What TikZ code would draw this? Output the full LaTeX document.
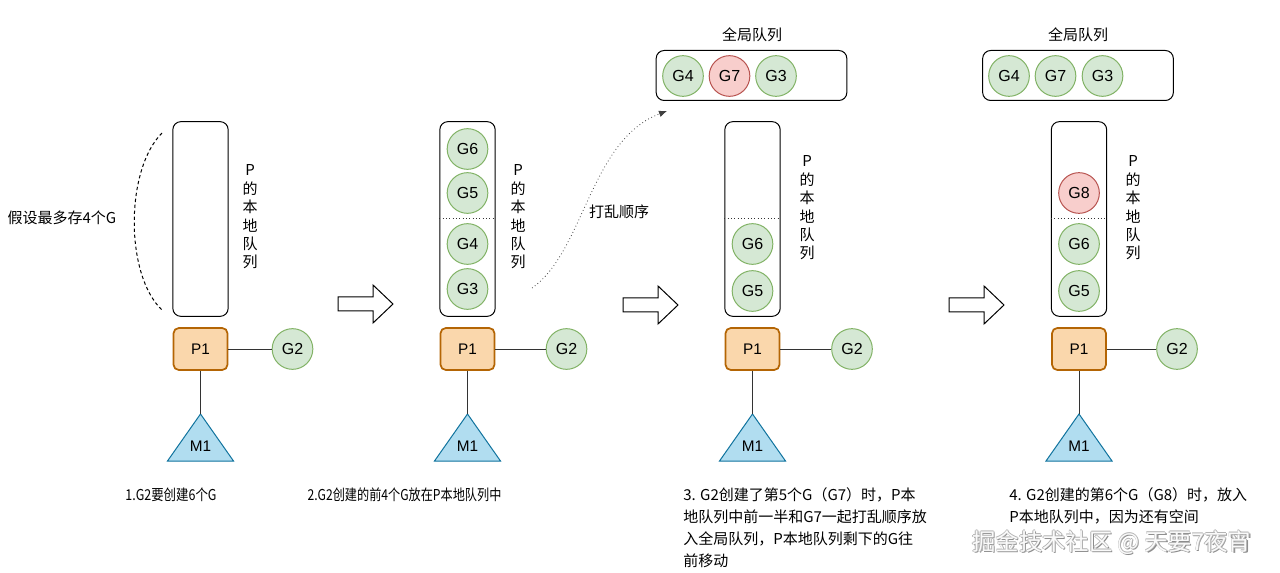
\documentclass[tikz,border=0pt]{standalone}
\usepackage{fontspec}
\usetikzlibrary{arrows.meta}
\setmainfont{Liberation Sans}
\newfontfamily\cjk{Noto Sans CJK SC}
\definecolor{gfill}{HTML}{D5E8D4}
\definecolor{gline}{HTML}{82B366}
\definecolor{rfill}{HTML}{F8CECC}
\definecolor{rline}{HTML}{B85450}
\definecolor{ofill}{HTML}{FAD7AC}
\definecolor{oline}{HTML}{B46504}
\definecolor{bfill}{HTML}{B1DDF0}
\definecolor{bline}{HTML}{10739E}
\definecolor{wmshadow}{HTML}{8C8C8C}
\definecolor{wmedge}{HTML}{B4B4B4}
\definecolor{wmtext}{HTML}{FAFAFA}
\tikzset{
  qbox/.style={draw=black, line width=0.75pt, rounded corners=6pt, minimum width=41.5pt, minimum height=146pt, inner sep=0pt},
  globbox/.style={draw=black, line width=0.75pt, rounded corners=6pt, minimum width=143pt, minimum height=37.5pt, inner sep=0pt},
  pbox/.style={draw=oline, fill=ofill, line width=1.3pt, rounded corners=4pt, minimum width=40.5pt, minimum height=31.5pt, inner sep=0pt, font=\fontsize{11.5}{13}\selectfont},
  gnode/.style={circle, draw=gline, fill=gfill, line width=0.75pt, minimum size=30.5pt, inner sep=0pt, font=\fontsize{12}{14}\selectfont},
  rnode/.style={gnode, draw=rline, fill=rfill},
  mtri/.style={draw=bline, fill=bfill, line width=0.75pt, line join=miter},
  lbl/.style={inner sep=0pt, font=\fontsize{11.5}{13}\selectfont},
  cjklbl/.style={inner sep=0pt, font=\cjk\fontsize{11.25}{16.5}\selectfont},
  vlbl/.style={inner sep=0pt, align=center, font=\cjk\fontsize{11.25}{13.8}\selectfont},
  conn/.style={draw=black!80, line width=0.75pt},
  divider/.style={draw=black!80, line width=0.5pt, dotted},
  barrow/.style={draw=black, fill=white, line width=0.75pt, line join=miter},
  wmfont/.style={inner sep=0pt, font=\cjk\fontsize{17.5}{20}\selectfont},
}
\newcommand\mypanel[4]{%
  \node[qbox] (#1q) at (#2,219) {};
  \node[pbox] (#1p) at (#2,349) {P1};
  \node[gnode] (#1g2) at (#3,349) {G2};
  \coordinate (#1ma) at (#2,414);
  \draw[mtri] (#1ma) -- ++(-33,47) -- ++(66,0) -- cycle;
  \node[lbl] (#1m) at (#2,446) {M1};
  \draw[conn] (#1p) -- (#1g2);
  \draw[conn] (#1p) -- (#1ma);
  \node[vlbl] (#1lbl) at (#4) {P\\的\\本\\地\\队\\列};
}
\newcommand\mydivider[1]{%
  \draw[divider] (#1q.west |- 0,218.5) -- (#1q.east |- 0,218.5);
}
\newcommand\myblockarrow[2]{%
  \draw[barrow] (#1,#2-7) -- (#1+35,#2-7) -- (#1+35,#2-19) -- (#1+55,#2) -- (#1+35,#2+19) -- (#1+35,#2+7) -- (#1,#2+7) -- cycle;
}
\newcommand\wmtxt{掘金技术社区 @ 天要7夜宵}
\begin{document}
\begin{tikzpicture}[x=0.75pt,y=-0.75pt]
\useasboundingbox[fill=white] (0,0) rectangle (1280,573);

% ---------- panel 1
\mypanel{a}{200.5}{292.5}{250,217}
\coordinate (arcA) at (162,133);
\coordinate (arcB) at (162,310);
\draw[black, line width=0.75pt, dash pattern=on 2.5pt off 2pt] (arcA) .. controls (125,170) and (125,275) .. (arcB);
\node[cjklbl] (assume) at (62,218) {假设最多存4个G};
\node[cjklbl] (cap1) at (171,495) {\scalebox{0.83}[1]{1.G2要创建6个G}};

% ---------- panel 2
\mypanel{b}{467.5}{566.5}{518,217}
\mydivider{b}
\node[gnode] (b6) at (467.5,149) {G6};
\node[gnode] (b5) at (467.5,193) {G5};
\node[gnode] (b4) at (467.5,244) {G4};
\node[gnode] (b3) at (467.5,289) {G3};
\node[cjklbl] (cap2) at (404.5,495) {\scalebox{0.81}[1]{2.G2创建的前4个G放在P本地队列中}};

% ---------- panel 3
\node[cjklbl] (gl3) at (752,35) {全局队列};
\node[globbox] (gq3) at (751.5,75.5) {};
\node[gnode] (c4) at (683,76) {G4};
\node[rnode] (c7) at (729.5,76) {G7};
\node[gnode] (c3) at (776,76) {G3};
\mypanel{c}{752.5}{852}{807,208}
\mydivider{c}
\node[gnode] (c6) at (752.5,244) {G6};
\node[gnode] (c5) at (752.5,291) {G5};
\node[cjklbl, align=left, anchor=west] (cap3) at (683,527.5) {3. G2创建了第5个G（G7）时，P本\\地队列中前一半和G7一起打乱顺序放\\入全局队列，P本地队列剩下的G往\\前移动};

% shuffle arrow
\coordinate (shufA) at (532,288);
\coordinate (shufB) at (667,111);
\draw[black!75, line width=0.6pt, dotted, -{Latex[length=6pt,width=5pt]}] (shufA) .. controls (584,252) and (590,140) .. (shufB);
\node[cjklbl, fill=white, inner sep=1pt] (shuf) at (619,212) {打乱顺序};

% ---------- panel 4
\node[cjklbl] (gl4) at (1078,35) {全局队列};
\node[globbox] (gq4) at (1078,75.5) {};
\node[gnode] (d4) at (1009,76) {G4};
\node[gnode] (d7) at (1055.5,76) {G7};
\node[gnode] (d3) at (1102.5,76) {G3};
\mypanel{d}{1079}{1177}{1133,208}
\mydivider{d}
\node[rnode] (d8) at (1079,193) {G8};
\node[gnode] (d6) at (1079,244) {G6};
\node[gnode] (d5) at (1079,291) {G5};
\node[cjklbl, align=left, anchor=west] (cap4) at (1009,506) {4. G2创建的第6个G（G8）时，放入\\P本地队列中，因为还有空间};

% ---------- block arrows
\myblockarrow{338}{304}
\myblockarrow{623}{305}
\myblockarrow{949}{305}

% ---------- watermark
\node[wmfont, text=wmshadow] (wms) at (1113,543.8) {\wmtxt};
\node[wmfont, text=wmedge] (wme1) at (1111.2,542.3) {\wmtxt};
\node[wmfont, text=wmedge] (wme2) at (1112.4,542.3) {\wmtxt};
\node[wmfont, text=wmedge] (wme3) at (1111.8,541.7) {\wmtxt};
\node[wmfont, text=wmedge] (wme4) at (1111.8,542.9) {\wmtxt};
\node[wmfont, text=wmtext] (wm) at (1111.8,542.3) {\wmtxt};
\end{tikzpicture}
\end{document}
